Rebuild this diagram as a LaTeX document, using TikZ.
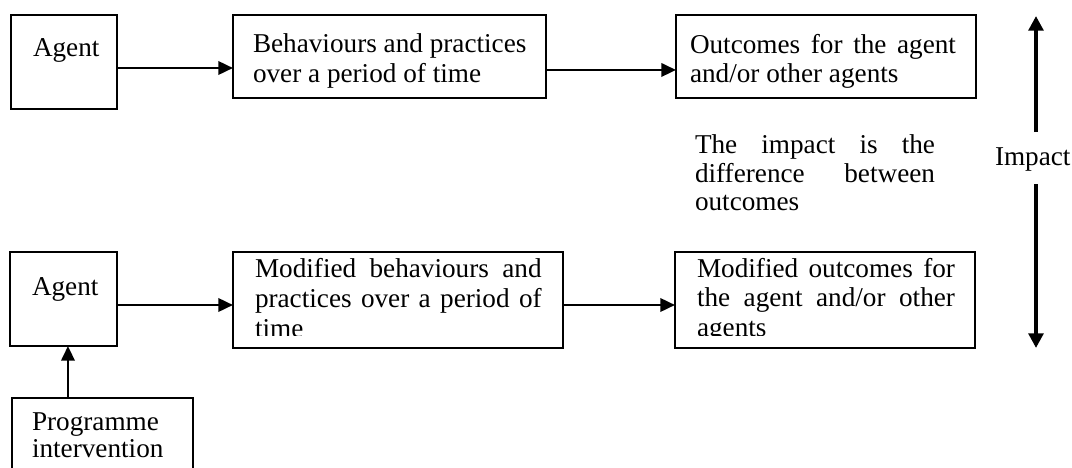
\documentclass[tikz,border=0pt]{standalone}
\usepackage{fontspec}
\setmainfont{Liberation Serif}
\usetikzlibrary{arrows.meta,fit}
\newcommand\myfs{\fontsize{20.4}{22.5}\selectfont}
\tikzset{
  boxnode/.style={draw, line width=1.5pt, inner sep=0pt, outer sep=0pt},
  txt/.style={anchor=base west, inner sep=0pt, outer sep=0pt, font=\myfs},
  arr/.style={line width=1.9pt, -{Triangle[length=11pt,width=10pt]}},
  bigarr/.style={line width=3pt, -{Triangle[length=11pt,width=11pt]}}
}
\begin{document}
\begin{tikzpicture}[x=0.75pt,y=-0.75pt]
\useasboundingbox (0,0) rectangle (1072,468);
\fill[white] (0,0) rectangle (1072,468);

% boxes
\node[boxnode, fit={(11,15) (117,109)}] (a1) {};
\node[boxnode, fit={(233,15) (546,98)}] (b1) {};
\node[boxnode, fit={(676,15) (976,98)}] (c1) {};
\node[boxnode, fit={(10,252) (117,346)}] (a2) {};
\node[boxnode, fit={(233,252) (563,348)}] (b2) {};
\node[boxnode, fit={(675,252) (975,348)}] (c2) {};
\node[boxnode, fit={(12,398) (193,490)}] (p) {};

% texts top row
\node[txt] (a1t) at (33,56) {Agent};
\node[txt] (b1l1) at (253,52) {Behaviours and practices};
\node[txt] (b1l2) at (253,82) {over a period of time};
\node[txt] (c1l1) at (690,53) {\makebox[199.5pt][s]{Outcomes for the agent}};
\node[txt] (c1l2) at (690,82) {and/or other agents};

% impact explanation
\node[txt] (il1) at (695,153) {\makebox[180pt][s]{The impact is the}};
\node[txt] (il2) at (695,182) {\makebox[180pt][s]{difference between}};
\node[txt] (il3) at (695,210) {outcomes};

% lower row
\node[txt] (a2t) at (32,295) {Agent};
\node[txt] (b2l1) at (255,277) {\makebox[215pt][s]{Modified behaviours and}};
\node[txt] (b2l2) at (255,307) {\makebox[215pt][s]{practices over a period of}};
\begin{scope}
\clip (233,252) rectangle (563,335.5);
\node[txt] (b2l3) at (255,337) {time};
\end{scope}
\node[txt] (c2l1) at (697,277) {\makebox[193.5pt][s]{Modified outcomes for}};
\node[txt] (c2l2) at (697,306) {\makebox[193.5pt][s]{the agent and/or other}};
\begin{scope}
\clip (675,252) rectangle (975,335.5);
\node[txt] (c2l3) at (697,336) {agents};
\end{scope}

\node[txt] (pl1) at (32,430) {Programme};
\node[txt] (pl2) at (32,457) {intervention};

% impact
\node[txt] (imp) at (995,165) {Impact};
\coordinate (itop) at (1036,16);
\coordinate (i1) at (1036,132);
\coordinate (i2) at (1036,184);
\coordinate (ibot) at (1036,348);
\draw[bigarr] (i1) -- (itop);
\draw[bigarr] (i2) -- (ibot);

% connectors
\draw[arr] ([yshift=-4.5pt]a1.east) -- ([yshift=-4.5pt]a1.east -| b1.west);
\draw[arr] ([yshift=-10.1pt]b1.east) -- ([yshift=-10.1pt]b1.east -| c1.west);
\draw[arr] ([yshift=-4.5pt]a2.east) -- ([yshift=-4.5pt]a2.east -| b2.west);
\draw[arr] ([yshift=-3.75pt]b2.east) -- ([yshift=-3.75pt]b2.east -| c2.west);
\draw[arr] ([xshift=-25.9pt]p.north) -- ([xshift=-25.9pt]p.north |- a2.south);
\end{tikzpicture}
\end{document}
